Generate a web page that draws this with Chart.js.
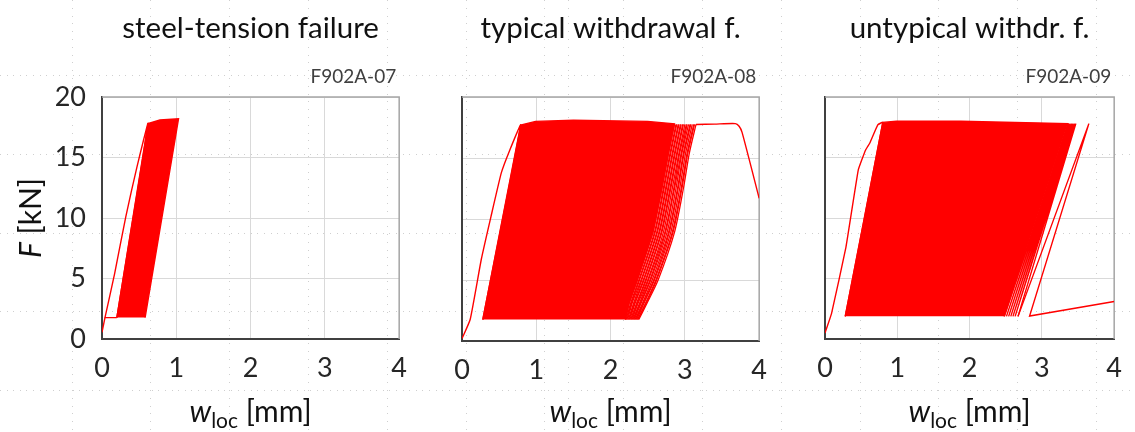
<!DOCTYPE html>
<html lang="en">
<head>
<meta charset="UTF-8">
<title>F902A cyclic tests</title>
<script src="https://cdn.jsdelivr.net/npm/chart.js"></script>
<style>
    body {
        margin: 0;
        width: 1135px;
        height: 432px;
        overflow: hidden;
        position: relative;
        background: #fff;
        font-family: Lato, sans-serif;
    }
    canvas { position: absolute; top: 0; }
    /* faint slide guides behind the charts */
    .gh { position: absolute; left: 0; width: 1135px; height: 1px;
          background: repeating-linear-gradient(to right, #cfcfcf 0 1px, transparent 1px 6.6px); }
    .gv { position: absolute; top: 0; height: 432px; width: 1px;
          background: repeating-linear-gradient(to bottom, #cfcfcf 0 1px, transparent 1px 7.8px); }
</style>
</head>
<body>
<div id="guides"></div>
<canvas id="c1" width="420" height="432" style="left:0px"></canvas>
<canvas id="c2" width="360" height="432" style="left:420px"></canvas>
<canvas id="c3" width="355" height="432" style="left:780px"></canvas>

<script>
    const xTicks = [0, 1, 2, 3, 4];
    const yTicks = [0, 5, 10, 15, 20];
    const titles = ['steel-tension failure', 'typical withdrawal f.', 'untypical withdr. f.'];
    const specimens = ['F902A-07', 'F902A-08', 'F902A-09'];

    // [w_loc mm, F kN]

    // F902A-07
    const p1Start = [[0, 0.55], [0.04, 1.77], [0.2, 1.77]];
    const p1FirstLoad = [[0.04, 1.77], [0.17, 5.4], [0.32, 10.1], [0.47, 14.2], [0.62, 17.8], [0.2, 1.77]];
    const p1Cycles = [[0.2, 1.77], [0.62, 17.8], [0.78, 18.1], [1.03, 18.2], [0.58, 1.77]];

    // F902A-08
    const p2FirstLoad = [[0, 0.2], [0.11, 1.76], [0.26, 6.7], [0.39, 10.2], [0.53, 13.8], [0.64, 15.6], [0.79, 17.7], [0.28, 1.76]];
    const p2Cycles = [[0.28, 1.76], [0.79, 17.7], [0.99, 18.0], [1.5, 18.1], [2.5, 18.0], [2.86, 17.8],
                      [2.78, 15.4], [2.69, 12.5], [2.57, 8.9], [2.36, 5.0], [2.25, 3.1], [2.2, 1.76]];
    const p2FanF = [1.76, 3.1, 5.0, 8.9, 12.5, 15.4, 17.75];
    const p2FanX = [
        [2.20, 2.25, 2.36, 2.57, 2.69, 2.78, 2.86],
        [2.21, 2.27, 2.38, 2.59, 2.71, 2.80, 2.88],
        [2.22, 2.28, 2.39, 2.60, 2.72, 2.81, 2.89],
        [2.23, 2.29, 2.41, 2.62, 2.74, 2.83, 2.91],
        [2.24, 2.31, 2.42, 2.63, 2.75, 2.84, 2.92],
        [2.25, 2.32, 2.44, 2.65, 2.77, 2.86, 2.94],
        [2.26, 2.33, 2.45, 2.66, 2.78, 2.87, 2.95],
        [2.27, 2.35, 2.47, 2.68, 2.80, 2.89, 2.97],
        [2.28, 2.36, 2.48, 2.69, 2.81, 2.90, 2.98],
        [2.29, 2.37, 2.50, 2.71, 2.83, 2.92, 3.00],
        [2.30, 2.39, 2.51, 2.73, 2.85, 2.93, 3.02],
        [2.31, 2.40, 2.53, 2.74, 2.86, 2.95, 3.03],
        [2.32, 2.41, 2.54, 2.76, 2.88, 2.96, 3.05],
        [2.33, 2.43, 2.56, 2.78, 2.90, 2.98, 3.07],
        [2.34, 2.44, 2.58, 2.79, 2.91, 2.99, 3.08],
        [2.35, 2.45, 2.59, 2.81, 2.93, 3.01, 3.10],
        [2.36, 2.47, 2.61, 2.83, 2.95, 3.03, 3.12],
        [2.37, 2.48, 2.62, 2.84, 2.96, 3.04, 3.13],
        [2.38, 2.49, 2.64, 2.86, 2.98, 3.06, 3.15]
    ];
    const p2End = [[3.15, 17.75], [3.4, 17.78], [3.68, 17.82], [3.73, 17.6], [3.77, 17.1], [4.0, 11.7]];

    // F902A-09
    const p3FirstLoad = [[0, 0.5], [0.09, 2.1], [0.29, 7.6], [0.46, 13.96], [0.56, 15.6], [0.62, 16.2], [0.73, 17.7], [0.8, 17.9], [0.28, 1.87]];
    const p3Cycles = [[0.28, 1.87], [0.8, 17.9], [0.99, 18.0], [1.88, 18.0], [3.36, 17.8], [2.48, 1.87]];
    const p3FanLow = [2.48, 2.51, 2.54, 2.57, 2.6, 2.63, 2.67];
    const p3FanHigh = [3.37, 3.39, 3.41, 3.43, 3.45, 3.47];
    const p3End = [[2.67, 1.87], [3.65, 17.8], [2.83, 1.9], [4.0, 3.1]];

    const RED = '#ff0000';
    const FONT = 'Lato, "Open Sans", sans-serif';

    // guides
    const guides = document.getElementById('guides');
    [75, 153.8, 232.6, 311.4, 390.2].forEach(y => {
        const d = document.createElement('div'); d.className = 'gh'; d.style.top = y + 'px'; guides.appendChild(d);
    });
    [71.5, 150.3, 229.1, 307.9, 386.7, 465.5, 544.3, 567.5, 623.1, 701.9, 780.7, 859.5, 938.3, 1017.1, 1095.9].forEach(x => {
        const d = document.createElement('div'); d.className = 'gv'; d.style.left = x + 'px'; guides.appendChild(d);
    });

    function line(arr, extra) {
        return Object.assign({
            data: arr.map(([x, y]) => ({ x, y })),
            showLine: true, borderColor: RED, backgroundColor: RED,
            borderWidth: 1.4, pointRadius: 0, fill: false, tension: 0
        }, extra || {});
    }

    function fanLines(F, rows) {
        return rows.map(r => line(r.map((x, i) => [x, F[i]]), { tension: 0.25, borderWidth: 1.3 }));
    }

    function zigzag(lows, highs, fLow, fHigh) {
        const out = [];
        lows.forEach((x, i) => {
            out.push([x, fLow]);
            if (i < highs.length) out.push([highs[i], fHigh]);
        });
        return out;
    }

    // gray top/right border of the plot box
    const frame = {
        id: 'frame',
        beforeDatasetsDraw(chart) {
            const a = chart.chartArea, ctx = chart.ctx;
            ctx.save();
            ctx.strokeStyle = '#a6a6a6';
            ctx.lineWidth = 1.5;
            ctx.beginPath();
            ctx.moveTo(a.left, a.top);
            ctx.lineTo(a.right, a.top);
            ctx.lineTo(a.right, a.bottom);
            ctx.stroke();
            ctx.restore();
        }
    };

    const panelText = {
        id: 'panelText',
        afterDraw(chart, args, opts) {
            const a = chart.chartArea, ctx = chart.ctx;
            const cx = (a.left + a.right) / 2;
            ctx.save();
            ctx.fillStyle = '#111';
            ctx.textBaseline = 'alphabetic';
            ctx.textAlign = 'center';
            ctx.font = '29.5px ' + FONT;
            ctx.fillText(opts.title, cx, 38);

            ctx.fillStyle = '#404040';
            ctx.textAlign = 'right';
            ctx.font = '19px ' + FONT;
            ctx.fillText(opts.specimen, a.right - 3, 83);

            // w_loc [mm]
            ctx.fillStyle = '#111';
            ctx.textAlign = 'left';
            const big = '30px ' + FONT, it = 'italic 30px ' + FONT, sub = '21px ' + FONT;
            ctx.font = it; const ww = ctx.measureText('w').width;
            ctx.font = sub; const wl = ctx.measureText('loc').width;
            ctx.font = big; const wm = ctx.measureText(' [mm]').width;
            let x = cx - (ww + wl + wm) / 2;
            const base = 422;
            ctx.font = it; ctx.fillText('w', x, base); x += ww;
            ctx.font = sub; ctx.fillText('loc', x, base + 6); x += wl;
            ctx.font = big; ctx.fillText(' [mm]', x, base);

            if (opts.yTitle) {
                ctx.translate(41, (a.top + a.bottom) / 2);
                ctx.rotate(-Math.PI / 2);
                ctx.font = it; const wf = ctx.measureText('F').width;
                ctx.font = big; const wk = ctx.measureText(' [kN]').width;
                let y0 = -(wf + wk) / 2;
                ctx.font = it; ctx.fillText('F', y0, 0);
                ctx.font = big; ctx.fillText(' [kN]', y0 + wf, 0);
            }
            ctx.restore();
        }
    };

    function panel(id, idx, geom, datasets) {
        return new Chart(document.getElementById(id), {
            type: 'scatter',
            data: { datasets },
            options: {
                responsive: false,
                animation: false,
                layout: { padding: { left: 0, right: geom.width - geom.right, top: geom.top, bottom: 0 } },
                plugins: {
                    legend: { display: false },
                    tooltip: { enabled: false },
                    panelText: { title: titles[idx], specimen: specimens[idx], yTitle: idx === 0 }
                },
                scales: {
                    x: {
                        type: 'linear', min: 0, max: 4,
                        afterBuildTicks: s => { s.ticks = xTicks.map(v => ({ value: v })); },
                        afterFit: s => { s.height = 432 - geom.bottom; },
                        ticks: { font: { family: FONT, size: 27 }, color: '#262626', padding: 13, maxRotation: 0 },
                        grid: { color: '#d9d9d9', drawTicks: false },
                        border: { color: '#404040', width: 2 }
                    },
                    y: {
                        type: 'linear', min: 0, max: 20,
                        afterBuildTicks: s => { s.ticks = yTicks.map(v => ({ value: v })); },
                        afterFit: s => { s.width = geom.left; },
                        ticks: { display: idx === 0, font: { family: FONT, size: 27 }, color: '#262626', padding: 16 },
                        grid: { color: '#d9d9d9', drawTicks: false },
                        border: { color: '#404040', width: 2 }
                    }
                }
            },
            plugins: [frame, panelText]
        });
    }

    panel('c1', 0, { width: 420, left: 102, right: 402, top: 97, bottom: 339 }, [
        line(p1Cycles, { fill: 'shape' }),
        line(p1Start),
        line(p1FirstLoad, { tension: 0.2 })
    ]);

    panel('c2', 1, { width: 360, left: 42, right: 344, top: 97, bottom: 341 }, [
        line(p2Cycles, { fill: 'shape' }),
        line(p2FirstLoad, { tension: 0.15 }),
        ...fanLines(p2FanF, p2FanX),
        line(p2End, { tension: 0.2 })
    ]);

    panel('c3', 2, { width: 355, left: 45, right: 346, top: 97, bottom: 339 }, [
        line(p3Cycles, { fill: 'shape' }),
        line(p3FirstLoad, { tension: 0.1 }),
        line(zigzag(p3FanLow, p3FanHigh, 1.87, 17.8)),
        line(p3End)
    ]);
</script>
</body>
</html>
